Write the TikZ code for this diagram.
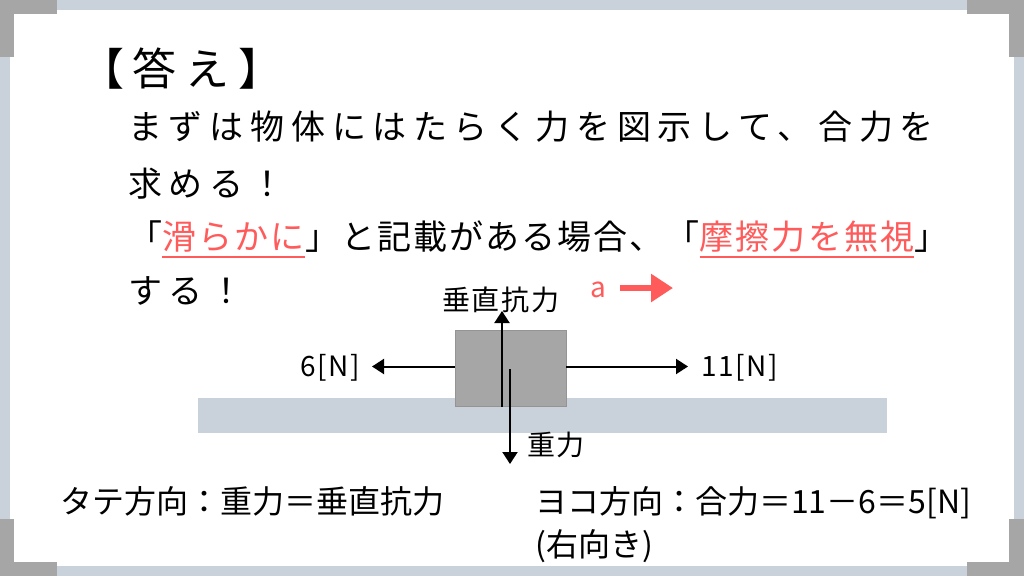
\documentclass[tikz,border=0pt]{standalone}
\usepackage{fontspec}
\setmainfont{Noto Sans CJK JP}
\newfontfamily\jpbody[LetterSpace=20]{Noto Sans CJK JP}
\newfontfamily\jpnarrow[LetterSpace=6]{Noto Sans CJK JP}
\newfontfamily\jptitle[LetterSpace=20]{Noto Sans CJK JP}
\newfontfamily\jplabel[LetterSpace=6]{Noto Sans CJK JP}
\usetikzlibrary{positioning,arrows.meta,calc}

\definecolor{framegray}{HTML}{C9D1DB}
\definecolor{cornergray}{HTML}{A6A6A6}
\definecolor{blockgray}{HTML}{A6A6A6}
\definecolor{hilite}{HTML}{FF5B5B}

\newcommand\titlefont{\jptitle\fontsize{44pt}{50pt}\selectfont}
\newcommand\bodyfont{\jpbody\fontsize{34pt}{40pt}\selectfont}
\newcommand\narrowfont{\jpnarrow\fontsize{34pt}{40pt}\selectfont}
\newcommand\labelfont{\jplabel\fontsize{28pt}{32pt}\selectfont}
\newcommand\notefont{\fontsize{32pt}{36pt}\selectfont}

\tikzset{
  txt/.style={inner sep=0pt, anchor=base west},
  body/.style={txt, font=\bodyfont},
  narrow/.style={txt, font=\narrowfont},
  force/.style={line width=2pt, -{Triangle[length=12pt,width=15pt]}},
  redline/.style={hilite, line width=2pt}
}

\begin{document}
\begin{tikzpicture}[x=1pt,y=-1pt]
\useasboundingbox (0,0) rectangle (1024,576);

% frame
\fill[framegray] (0,0) rectangle (1024,576);
\fill[white] (10,10) rectangle (1014,566);
\fill[cornergray] (0,0) rectangle (57,14);
\fill[cornergray] (0,0) rectangle (14,57);
\fill[cornergray] (967,0) rectangle (1024,14);
\fill[cornergray] (1009,0) rectangle (1024,57);
\fill[cornergray] (0,562) rectangle (57,576);
\fill[cornergray] (0,519) rectangle (14,576);
\fill[cornergray] (967,562) rectangle (1024,576);
\fill[cornergray] (1009,519) rectangle (1024,576);

% text
\node[txt, font=\titlefont] (title) at (80,85) {【答え】};
\node[body] (line1) at (128,139) {まずは物体にはたらく力を図示して、合力を};
\node[body] (line2) at (128,196) {求める！};
\node[narrow] (q1) at (128,249) {「};
\node[narrow, hilite, base right=0pt of q1] (smooth) {滑らかに};
\node[narrow, base right=0pt of smooth] (mid) {」と記載がある場合、「};
\node[narrow, hilite, base right=0pt of mid] (nofric) {摩擦力を無視};
\node[narrow, base right=0pt of nofric] (q2) {」};
\node[body] (line4) at (128,303) {する！};
\draw[redline] ($(smooth.base west)+(0,8)$) -- ($(smooth.base east)+(0,8)$);
\draw[redline] ($(nofric.base west)+(0,8)$) -- ($(nofric.base east)+(0,8)$);

% ground and block
\fill[framegray] (198,398) rectangle (887,433);
\node[fill=blockgray, draw=black!42, line width=0.6pt, minimum width=111pt,
  minimum height=76pt, inner sep=0pt] (block) at (510.5,368.5) {};

% forces
\coordinate (nTail) at (502,406.5);
\coordinate (nHead) at (502,311);
\coordinate (gTail) at (510,369);
\coordinate (gHead) at (510,464);
\coordinate (lHead) at (372,366.5);
\coordinate (rHead) at (688,366.5);
\draw[force] (nTail) -- (nHead);
\draw[force] (gTail) -- (gHead);
\draw[force] (block.west |- lHead) -- (lHead);
\draw[force] (block.east |- rHead) -- (rHead);

\node[txt, font=\labelfont] (normal) at (442,310) {垂直抗力};
\node[txt, font=\labelfont] (gravity) at (527,455) {重力};
\node[txt, font=\labelfont] (left) at (300,376) {6[N]};
\node[txt, font=\labelfont] (right) at (701,376) {11[N]};

% acceleration
\node[txt, hilite, font=\labelfont] (accel) at (590,297) {a};
\coordinate (aTail) at (620,288);
\coordinate (aHead) at (673,288);
\draw[hilite, line width=6pt, -{Triangle[length=22pt,width=27pt]}] (aTail) -- (aHead);

% results
\node[txt, font=\notefont] (vert) at (60,513) {タテ方向：重力＝垂直抗力};
\node[txt, font=\notefont] (horz) at (535,513) {ヨコ方向：合力＝11－6＝5[N]};
\node[txt, font=\notefont] (dir) at (535,556) {(右向き)};
\end{tikzpicture}
\end{document}
